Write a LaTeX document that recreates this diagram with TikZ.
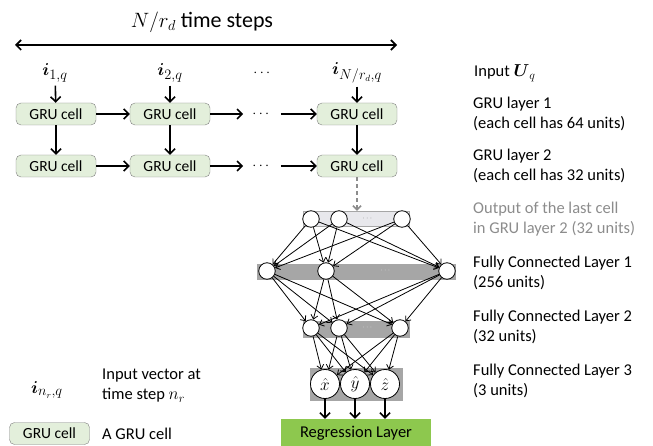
\documentclass[tikz,border=0pt]{standalone}
\usepackage{amsmath,amssymb}
\usepackage{fontspec}
\setmainfont{Carlito}
\usetikzlibrary{arrows.meta}
\definecolor{grufill}{RGB}{227,239,219}
\definecolor{inlayer}{RGB}{232,232,236}
\definecolor{fclayer}{RGB}{166,166,166}
\definecolor{reggreen}{RGB}{141,200,78}
\definecolor{outgray}{RGB}{140,140,140}

\begin{document}
\begin{tikzpicture}[x=1pt, y=-1pt,
        cell/.style={draw=gray, fill=grufill, rounded corners=5pt, minimum width=80pt, minimum height=22pt, inner sep=0pt, font=\fontsize{15.5}{18}\selectfont},
        ivec/.style={font=\fontsize{19}{22}\selectfont},
        gap/.style={inner sep=9pt, font=\fontsize{14}{16}\selectfont},
        bigarrow/.style={-{Straight Barb[length=5pt,width=10pt]}, line width=1.6pt},
        fcarrow/.style={-{Straight Barb[length=4pt,width=7pt]}, line width=0.8pt},
        layerbox/.style={draw=gray!70, line width=0.4pt, inner sep=0pt},
        unit/.style={circle, draw, line width=0.8pt, fill=white, minimum size=16.5pt, inner sep=0pt},
        outunit/.style={unit, minimum size=29pt, font=\fontsize{16}{18}\selectfont},
        fcdots/.style={font=\fontsize{8}{8}\selectfont, text=gray},
        lbl/.style={anchor=west, align=left, inner sep=0pt, font=\fontsize{16.5}{20}\selectfont}]
        \useasboundingbox (0,0) rectangle (653,446);

        % time steps
        \node [font=\fontsize{22}{26}\selectfont] (title) at (202,22) {$N/r_d$ time steps};
        \coordinate (TL) at (15,45);
        \coordinate (TR) at (397,45);
        \draw [{Straight Barb[length=5pt,width=10pt]}-{Straight Barb[length=5pt,width=10pt]}, line width=1.6pt] (TL) -- (TR);

        % inputs
        \node [ivec] (I1) at (55,73) {$\boldsymbol{i}_{1,q}$};
        \node [ivec] (I2) at (170,73) {$\boldsymbol{i}_{2,q}$};
        \node [gap] (ID) at (263,73) {$\cdots$};
        \node [ivec] (I3) at (357,73) {$\boldsymbol{i}_{N/r_d,q}$};

        % GRU layers
        \node [cell] (G11) at (56,114) {GRU cell};
        \node [cell] (G12) at (170,114) {GRU cell};
        \node [gap] (D1) at (262,114) {$\cdots$};
        \node [cell] (G13) at (357,114) {GRU cell};
        \node [cell] (G21) at (56,166) {GRU cell};
        \node [cell] (G22) at (170,166) {GRU cell};
        \node [gap] (D2) at (262,166) {$\cdots$};
        \node [cell] (G23) at (357,166) {GRU cell};

        \draw [bigarrow] (I1) -- (G11);
        \draw [bigarrow] (I2) -- (G12);
        \draw [bigarrow] (I3) -- (G13);
        \draw [bigarrow] (G11) -- (G12);
        \draw [bigarrow] (G12) -- (D1);
        \draw [bigarrow] (D1) -- (G13);
        \draw [bigarrow] (G21) -- (G22);
        \draw [bigarrow] (G22) -- (D2);
        \draw [bigarrow] (D2) -- (G23);
        \draw [bigarrow] (G11) -- (G21);
        \draw [bigarrow] (G12) -- (G22);
        \draw [bigarrow] (G13) -- (G23);

        % fully connected part
        \node [layerbox, fill=inlayer, minimum width=106pt, minimum height=15pt] (IN) at (356,218.5) {};
        \node [layerbox, fill=fclayer, minimum width=198pt, minimum height=15pt] (FA) at (356,271.5) {};
        \node [layerbox, fill=fclayer, minimum width=106pt, minimum height=16pt] (FB) at (356,329) {};
        \node [layerbox, fill=fclayer, minimum width=92pt, minimum height=32pt] (FC) at (356,384) {};

        \draw [-{Straight Barb[length=4pt,width=8pt]}, line width=1.5pt, dash pattern=on 4pt off 3pt, outgray] (G23.south) -- (G23.south |- IN.north);

        \node [unit] (N1) at (311,219) {};
        \node [unit] (N2) at (339,219) {};
        \node [fcdots] (ND) at (368,219) {$\cdots$};
        \node [unit] (N3) at (402,219) {};
        \node [unit] (A1) at (267,271) {};
        \node [unit] (A2) at (326,271) {};
        \node [fcdots, text=gray!20] (AD) at (386,271) {$\cdots$};
        \node [unit] (A3) at (447,271) {};
        \node [unit] (B1) at (311,328) {};
        \node [unit] (B2) at (339,328) {};
        \node [fcdots, text=gray!20] (BD) at (368,328) {$\cdots$};
        \node [unit] (B3) at (400,328) {};
        \node [outunit] (C1) at (325,384) {$\hat{x}$};
        \node [outunit] (C2) at (355,384) {$\hat{y}$};
        \node [outunit] (C3) at (385,384) {$\hat{z}$};

        \foreach \s in {1,2,3} {
            \foreach \t in {1,2,3} {
                \draw [fcarrow] (N\s) -- (A\t);
                \draw [fcarrow] (A\s) -- (B\t);
                \draw [fcarrow] (B\s) -- (C\t);
            }
        }

        \node [fill=reggreen, minimum width=150pt, minimum height=29pt, inner sep=0pt, font=\fontsize{16.5}{20}\selectfont] (REG) at (356,433.5) {Regression Layer};
        \draw [bigarrow] (C1.south) -- (C1.south |- REG.north);
        \draw [bigarrow] (C2.south) -- (C2.south |- REG.north);
        \draw [bigarrow] (C3.south) -- (C3.south |- REG.north);

        % labels
        \node [lbl] (L0) at (474,73) {Input $\boldsymbol{U}_q$};
        \node [lbl] (L1) at (473,114) {GRU layer 1\\(each cell has 64 units)};
        \node [lbl] (L2) at (473,166) {GRU layer 2\\(each cell has 32 units)};
        \node [lbl, text=outgray] (L3) at (473,219) {Output of the last cell\\in GRU layer 2 (32 units)};
        \node [lbl] (L4) at (473,273) {Fully Connected Layer 1\\(256 units)};
        \node [lbl] (L5) at (473,327) {Fully Connected Layer 2\\(32 units)};
        \node [lbl] (L6) at (473,381) {Fully Connected Layer 3\\(3 units)};

        % legend
        \node [ivec] (KI) at (47,390) {$\boldsymbol{i}_{n_r,q}$};
        \node [lbl] (KT) at (102,386) {Input vector at\\time step $n_r$};
        \node [cell] (KC) at (49.5,433.5) {GRU cell};
        \node [lbl] (KG) at (102,434) {A GRU cell};
\end{tikzpicture}
\end{document}
